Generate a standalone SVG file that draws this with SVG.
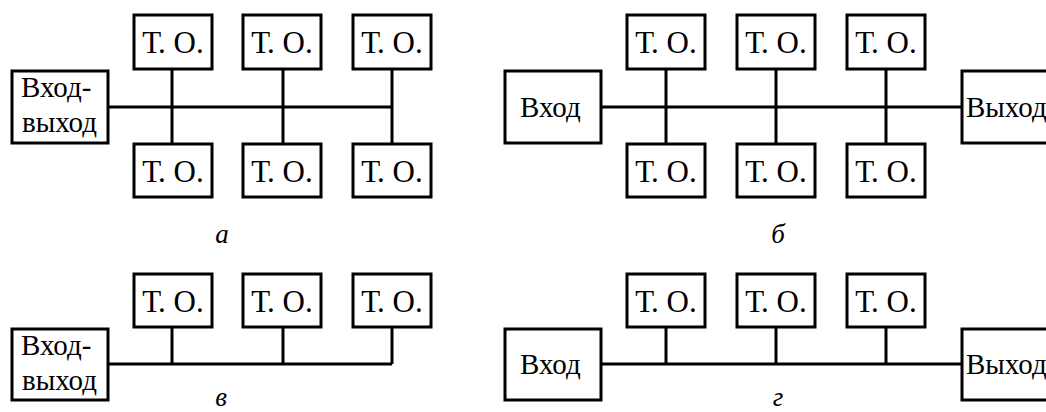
<svg xmlns="http://www.w3.org/2000/svg" width="1046" height="412" viewBox="0 0 1046 412">
<style>
.box{fill:#fff;stroke:#000;stroke-width:3}
.ln{stroke:#000;stroke-width:3;fill:none}
.t{font-family:"Liberation Serif","Times New Roman",serif;font-size:31px;fill:#000;text-anchor:middle}
.io{font-family:"Liberation Serif","Times New Roman",serif;font-size:29px;fill:#000}
.lb{font-family:"Liberation Serif","Times New Roman",serif;font-size:27px;font-style:italic;fill:#000;text-anchor:middle}
</style>
<rect width="1046" height="412" fill="#fff"/>
<g id="connectors">
<path class="ln" d="M108 107H392M172 69V144M283 69V144M392 69V144"/>
<path class="ln" d="M601 107H962M666 69V144M776 69V144M886 69V144"/>
<path class="ln" d="M108 364H392M172 327V364M283 327V364M392 327V364"/>
<path class="ln" d="M601 364H962M666 327V364M776 327V364M886 327V364"/>
</g>
<g id="a-io"><rect class="box" x="12" y="71" width="96" height="72"/><text class="io" x="21" y="97">Вход-</text><text class="io" x="22" y="132">выход</text></g>
<g id="a-t1"><rect class="box" x="134" y="15" width="78" height="54"/><text class="t" x="173" y="53">Т. О.</text></g>
<g id="a-t2"><rect class="box" x="243" y="15" width="78" height="54"/><text class="t" x="282" y="53">Т. О.</text></g>
<g id="a-t3"><rect class="box" x="353" y="15" width="78" height="54"/><text class="t" x="392" y="53">Т. О.</text></g>
<g id="a-t4"><rect class="box" x="134" y="144" width="78" height="53"/><text class="t" x="173" y="182">Т. О.</text></g>
<g id="a-t5"><rect class="box" x="243" y="144" width="78" height="53"/><text class="t" x="282" y="182">Т. О.</text></g>
<g id="a-t6"><rect class="box" x="353" y="144" width="78" height="53"/><text class="t" x="392" y="182">Т. О.</text></g>
<g id="b-in"><rect class="box" x="505" y="71" width="96" height="72"/><text class="io" x="520" y="117">Вход</text></g>
<g id="b-out"><rect class="box" x="962" y="71" width="110" height="72"/><text class="io" x="966" y="117">Выход</text></g>
<g id="b-t1"><rect class="box" x="627" y="15" width="78" height="54"/><text class="t" x="666" y="53">Т. О.</text></g>
<g id="b-t2"><rect class="box" x="737" y="15" width="78" height="54"/><text class="t" x="776" y="53">Т. О.</text></g>
<g id="b-t3"><rect class="box" x="847" y="15" width="78" height="54"/><text class="t" x="886" y="53">Т. О.</text></g>
<g id="b-t4"><rect class="box" x="627" y="144" width="78" height="53"/><text class="t" x="666" y="182">Т. О.</text></g>
<g id="b-t5"><rect class="box" x="737" y="144" width="78" height="53"/><text class="t" x="776" y="182">Т. О.</text></g>
<g id="b-t6"><rect class="box" x="847" y="144" width="78" height="53"/><text class="t" x="886" y="182">Т. О.</text></g>
<g id="c-io"><rect class="box" x="12" y="329" width="96" height="71"/><text class="io" x="21" y="355">Вход-</text><text class="io" x="22" y="390">выход</text></g>
<g id="c-t1"><rect class="box" x="134" y="274" width="78" height="53"/><text class="t" x="173" y="312">Т. О.</text></g>
<g id="c-t2"><rect class="box" x="243" y="274" width="78" height="53"/><text class="t" x="282" y="312">Т. О.</text></g>
<g id="c-t3"><rect class="box" x="353" y="274" width="78" height="53"/><text class="t" x="392" y="312">Т. О.</text></g>
<g id="d-in"><rect class="box" x="505" y="329" width="96" height="71"/><text class="io" x="520" y="374">Вход</text></g>
<g id="d-out"><rect class="box" x="962" y="329" width="110" height="71"/><text class="io" x="966" y="374">Выход</text></g>
<g id="d-t1"><rect class="box" x="627" y="274" width="78" height="53"/><text class="t" x="666" y="312">Т. О.</text></g>
<g id="d-t2"><rect class="box" x="737" y="274" width="78" height="53"/><text class="t" x="776" y="312">Т. О.</text></g>
<g id="d-t3"><rect class="box" x="847" y="274" width="78" height="53"/><text class="t" x="886" y="312">Т. О.</text></g>
<g id="labels">
<text class="lb" x="222" y="243">а</text>
<text class="lb" x="778" y="243">б</text>
<text class="lb" x="221" y="406">в</text>
<text class="lb" x="778" y="406">г</text>
</g>
</svg>
